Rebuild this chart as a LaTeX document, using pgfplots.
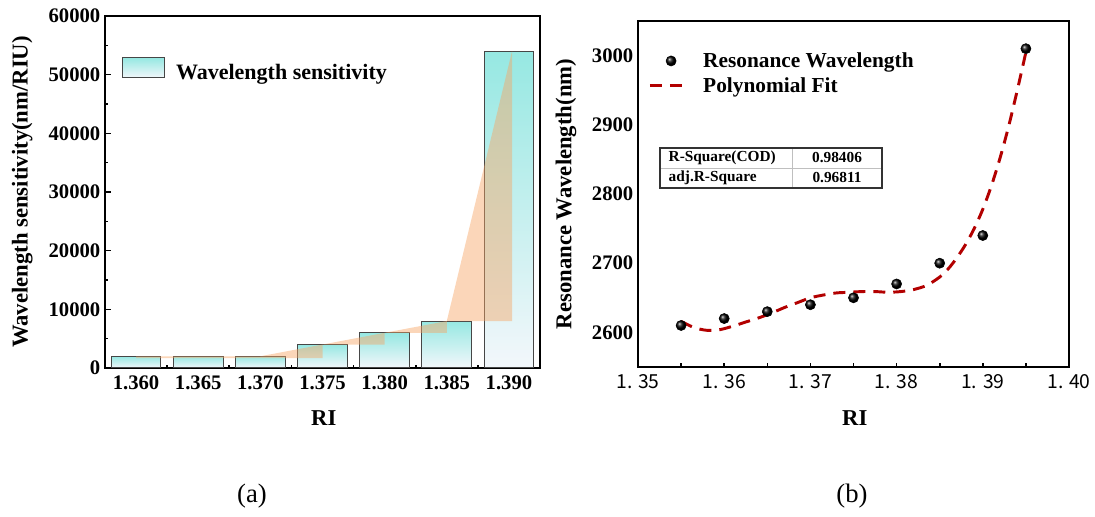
\documentclass[border=0pt]{standalone}
\usepackage{pgfplots}
\pgfplotsset{compat=1.18}
\usepackage{fontspec}
\setmainfont{Liberation Serif}
\newfontfamily\cjk{Noto Sans CJK SC}
\definecolor{bartop}{RGB}{150,232,226}
\definecolor{barbot}{RGB}{243,247,251}
\definecolor{bardraw}{RGB}{70,70,70}
\definecolor{orangefill}{RGB}{247,165,100}
\definecolor{fitred}{RGB}{178,0,0}
\pgfplotsset{
  mybar/.style={ybar, bar width=0.8, draw=bardraw, line width=0.8pt,
    top color=bartop, bottom color=barbot},
}
\begin{document}
\begin{tikzpicture}[x=0.75pt,y=0.75pt]
\path[use as bounding box] (0,0) rectangle (1095,517);
\coordinate (LA) at (105,149);
\coordinate (RA) at (638,150);
% ---------------- (a) ----------------
\begin{axis}[
  at={(LA)}, anchor=south west,
  scale only axis, width=326.25pt, height=264pt,
  xmin=-0.5, xmax=6.5, ymin=0, ymax=60000,
  xtick={0,...,6},
  xticklabels={1.360,1.365,1.370,1.375,1.380,1.385,1.390},
  minor xtick={0.5,1.5,2.5,3.5,4.5,5.5},
  ytick={0,10000,20000,30000,40000,50000,60000},
  minor ytick={5000,15000,25000,35000,45000,55000},
  tick pos=left, tick align=inside,
  major tick length=4.5pt, minor tick length=2.2pt,
  every tick/.style={black, line width=1.2pt},
  scaled y ticks=false,
  /pgf/number format/assume math mode=true,
  /pgf/number format/1000 sep={},
  tick label style={font=\fontsize{15.5}{16}\selectfont\bfseries},
  xticklabel style={yshift=-2pt},
  axis line style={line width=1.5pt},
  xlabel={RI}, ylabel={Wavelength sensitivity(nm/RIU)},
  label style={font=\fontsize{17}{18}\selectfont\bfseries},
  xlabel style={at={(axis description cs:0.503,-0.142)}, anchor=center},
  ylabel style={at={(axis description cs:-0.19,0.5)}, anchor=center},
  legend style={draw=none, fill=none, at={(axis description cs:0.03,0.844)}, anchor=west,
    font=\fontsize{16.5}{18}\selectfont\bfseries, legend cell align=left},
]
\addplot[mybar,
  legend image code/.code={\draw[draw=bardraw, line width=0.8pt, top color=bartop, bottom color=barbot] (0pt,-3.5pt) rectangle (31.5pt,11.5pt); \path (37.5pt,0pt);}]
  coordinates {(0,2000)};
\addlegendentry{Wavelength sensitivity}
\addplot[mybar, forget plot] coordinates {(1,2000)};
\addplot[mybar, forget plot] coordinates {(2,2000)};
\addplot[mybar, forget plot] coordinates {(3,4000)};
\addplot[mybar, forget plot] coordinates {(4,6000)};
\addplot[mybar, forget plot] coordinates {(5,8000)};
\addplot[mybar, forget plot] coordinates {(6,54000)};
\addplot[fill=orangefill, fill opacity=0.45, draw=none, forget plot]
  coordinates {(0,2000) (2,2000) (3,4000) (4,6000) (5,8000) (6.05,54000)
               (6.05,8000) (5,8000) (5,6000) (4,6000) (4,4000) (3,4000) (3,1700) (0,1700)};
\end{axis}
% ---------------- (b) ----------------
\begin{axis}[
  at={(RA)}, anchor=south west,
  scale only axis, width=323.25pt, height=259.5pt,
  xmin=1.35, xmax=1.40, ymin=2550, ymax=3050,
  xtick={1.35,1.36,1.37,1.38,1.39,1.40},
  xticklabels={1. 35,1. 36,1. 37,1. 38,1. 39,1. 40},
  minor xtick={1.355,1.365,1.375,1.385,1.395},
  ytick={2600,2700,2800,2900,3000},
  tick pos=left, tick align=inside,
  major tick length=3pt, minor tick length=3pt,
  every tick/.style={black, line width=1.2pt},
  y tick style={draw=none},
  /pgf/number format/assume math mode=true,
  /pgf/number format/1000 sep={},
  yticklabel style={font=\fontsize{15.5}{16}\selectfont\bfseries},
  xticklabel style={font=\cjk\fontsize{14.5}{15}\selectfont, yshift=-2pt},
  axis line style={line width=1.5pt},
  xlabel={RI}, ylabel={Resonance Wavelength(nm)},
  label style={font=\fontsize{17}{18}\selectfont\bfseries},
  xlabel style={at={(axis description cs:0.503,-0.147)}, anchor=center},
  ylabel style={at={(axis description cs:-0.167,0.5)}, anchor=center},
  legend style={draw=none, fill=none, at={(axis description cs:0.014,0.925)}, anchor=north west,
    font=\fontsize{16}{18}\selectfont\bfseries, legend cell align=left, row sep=2pt},
  legend image code/.code={\draw[mark repeat=2,mark phase=2,#1] plot coordinates {(0pt,0pt) (16pt,0pt) (29pt,0pt)}; \path (37pt,0pt);},
]
\addplot[fitred, line width=2.2pt, dash pattern=on 9pt off 6pt, smooth, forget plot]
  coordinates {
  (1.3550,2616) (1.3565,2607) (1.3580,2603) (1.3595,2604) (1.3610,2609)
  (1.3625,2615) (1.3640,2621) (1.3655,2628) (1.3670,2636) (1.3685,2643)
  (1.3700,2650) (1.3715,2654) (1.3730,2657) (1.3745,2658) (1.3760,2659)
  (1.3775,2659) (1.3790,2658) (1.3805,2659) (1.3820,2662) (1.3835,2668)
  (1.3850,2680) (1.3860,2692) (1.3870,2708) (1.3880,2727) (1.3890,2750)
  (1.3900,2778) (1.3910,2812) (1.3920,2852) (1.3930,2898) (1.3940,2950)
  (1.3950,3005)};
\addplot[only marks, mark=ball, mark size=3.8pt, ball color=black]
  coordinates {(1.355,2610) (1.360,2620) (1.365,2630) (1.370,2640) (1.375,2650)
               (1.380,2670) (1.385,2700) (1.390,2740) (1.395,3010)};
\addlegendentry{Resonance Wavelength}
\addlegendimage{fitred, line width=2.2pt, dash pattern=on 9pt off 6pt}
\addlegendentry{Polynomial Fit}
\end{axis}
% table
\draw[line width=0.6pt, draw=black!25] (792,369) -- (792,329) (660,349) -- (882,349);
\draw[line width=0.9pt, draw=black!80] (660,329) rectangle (882,369);
\begin{scope}[every node/.style={font=\fontsize{11.5}{12}\selectfont\bfseries}]
\node[anchor=west] at (664,359) {R-Square(COD)};
\node[anchor=west] at (664,339) {adj.R-Square};
\node at (837,359) {0.98406};
\node at (837,339) {0.96811};
\end{scope}
% captions
\node[font=\fontsize{20}{22}\selectfont] at (252,21) {(a)};
\node[font=\fontsize{20}{22}\selectfont] at (852,21) {(b)};
\end{tikzpicture}
\end{document}
